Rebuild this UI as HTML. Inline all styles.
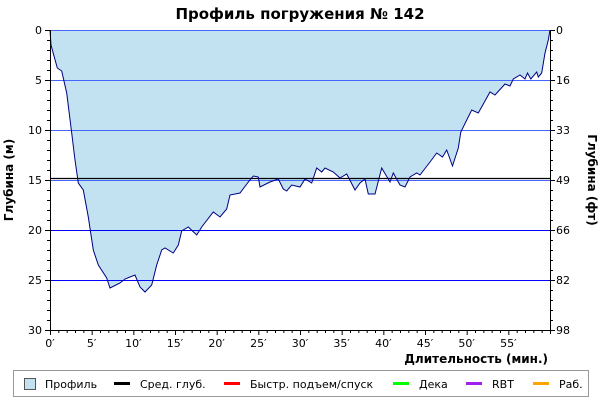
<!DOCTYPE html>
<html><head><meta charset="utf-8"><style>
body{margin:0;background:#fff;width:600px;height:400px;overflow:hidden}
svg text{font-family:"DejaVu Sans","Liberation Sans",sans-serif}
</style></head><body>
<svg id="c" width="600" height="400" xmlns="http://www.w3.org/2000/svg">
<text x="300" y="19" text-anchor="middle" font-size="15" font-weight="bold">Профиль погружения № 142</text>
<g id="plot"></g>
<text transform="translate(13,180) rotate(-90)" text-anchor="middle" font-size="12" font-weight="bold">Глубина (м)</text>
<text transform="translate(588,180) rotate(90)" text-anchor="middle" font-size="12" font-weight="bold">Глубина (фт)</text>
<text x="548" y="363" text-anchor="end" font-size="12" font-weight="bold">Длительность (мин.)</text>
<g>
<rect x="13.5" y="370.5" width="575" height="26" fill="#fff" stroke="#999"/>
<g><rect x="24.5" y="378.5" width="11" height="11" fill="#c2e2f2" stroke="#555"/><text x="45" y="388" font-size="11">Профиль</text></g>
<g><rect x="114" y="382" width="16" height="3" fill="#000"/><text x="140" y="388" font-size="11">Сред. глуб.</text></g>
<g><rect x="224" y="382" width="16" height="3" fill="#f00"/><text x="250" y="388" font-size="11">Быстр. подъем/спуск</text></g>
<g><rect x="393" y="382" width="16" height="3" fill="#0f0"/><text x="419" y="388" font-size="11">Дека</text></g>
<g><rect x="466" y="382" width="16" height="3" fill="#a020f0"/><text x="492" y="388" font-size="11">RBT</text></g>
<g><rect x="533" y="382" width="16" height="3" fill="#ffa500"/><text x="559" y="388" font-size="11">Раб.</text></g>
</g>
</svg>
<script>
const times=[0,0.12,0.88,1.4,2.0,2.6,3.0,3.4,4.0,4.6,5.2,5.8,6.8,7.2,8.4,9.0,10.2,10.8,11.4,12.2,12.8,13.4,13.8,14.8,15.4,15.8,16.6,17.6,18.2,19.6,20.4,21.2,21.6,22.8,23.8,24.4,25.0,25.2,26.4,27.4,28.0,28.4,29.0,30.0,30.6,31.4,32.0,32.6,33.0,34.0,34.8,35.6,36.6,37.2,37.8,38.2,39.0,39.8,40.8,41.2,42.0,42.6,43.2,44.0,44.4,45.6,46.4,47.1,47.6,48.3,49.0,49.3,50.6,51.4,52.8,53.4,54.6,55.2,55.6,56.4,57.0,57.3,57.7,58.4,58.6,59.0,59.4,59.8,60.0];
const depths=[0,1.5,3.8,4.1,6.3,10.3,13,15.3,16,18.7,22,23.5,24.8,25.8,25.3,24.9,24.5,25.7,26.2,25.5,23.5,22,21.8,22.3,21.5,20.1,19.7,20.5,19.7,18.2,18.7,17.9,16.5,16.3,15.2,14.6,14.7,15.7,15.2,14.9,15.9,16.1,15.5,15.7,14.9,15.3,13.8,14.2,13.8,14.2,14.8,14.4,16,15.3,14.9,16.4,16.4,13.8,15.2,14.3,15.5,15.7,14.7,14.3,14.5,13.2,12.3,12.7,12,13.6,11.8,10.2,8,8.3,6.2,6.5,5.4,5.6,4.9,4.5,4.9,4.3,4.9,4.2,4.7,4.3,2.3,1,0];
const avgDepth=14.8;
const depthTicks=[0,5,10,15,20,25,30];
const ftTicks=["0","16","33","49","66","82","98"];
const timeTicks=[0,5,10,15,20,25,30,35,40,45,50,55];
const X0=50,X1=550,Y0=30,Y1=330,TMAX=60,DMAX=30;
const xs=t=>X0+t/TMAX*(X1-X0), ys=d=>Y0+d/DMAX*(Y1-Y0);
const NS='http://www.w3.org/2000/svg', g=document.getElementById('plot');
function mk(tag,attrs){const e=document.createElementNS(NS,tag);for(const k in attrs)e.setAttribute(k,attrs[k]);g.appendChild(e);return e;}
let pts=times.map((t,i)=>xs(t).toFixed(1)+','+ys(depths[i]).toFixed(1)).join(' ');
const area=mk('polygon',{points:xs(times[0])+','+Y0+' '+pts+' '+xs(times[times.length-1])+','+Y0,fill:'#c2e2f2'});


depthTicks.forEach((d,i)=>{
  if(d>0&&d<DMAX){const l=mk('line',{x1:X0,x2:X1,y1:ys(d)+.5,y2:ys(d)+.5,stroke:d<=15?'#4466ff':'#0000ff','stroke-width':1});
  
  }
  const t=mk('text',{x:X0-8,y:ys(d)+4,'text-anchor':'end','font-size':11});t.textContent=d;
  
  
  const t2=mk('text',{x:X1+6,y:ys(d)+4,'font-size':11});t2.textContent=ftTicks[i];
  
  
});
const topLine=mk('line',{x1:X0,x2:X1,y1:Y0+.5,y2:Y0+.5,stroke:'#4466ff'});


const av=mk('line',{x1:X0,x2:X1,y1:ys(avgDepth)+.5,y2:ys(avgDepth)+.5,stroke:'#000','stroke-width':1.2});


const pl=mk('polyline',{points:pts,fill:'none',stroke:'#000080','stroke-width':1});


mk('line',{x1:X0+.5,x2:X0+.5,y1:Y0,y2:Y1+4,stroke:'#000'});
mk('line',{x1:X1+.5,x2:X1+.5,y1:Y0,y2:Y1+4,stroke:'#000'});
mk('line',{x1:X0,x2:X1,y1:Y1+.5,y2:Y1+.5,stroke:'#000'});
for(let d=0;d<=DMAX;d++){const L=d%5==0?5:3;
  mk('line',{x1:X0-L,x2:X0,y1:ys(d)+.5,y2:ys(d)+.5,stroke:'#000'});
  mk('line',{x1:X1,x2:X1+L,y1:ys(d)+.5,y2:ys(d)+.5,stroke:'#000'});}
for(let m=0;m<TMAX;m++){const L=m%5==0?5:3;
  mk('line',{x1:xs(m)+.5,x2:xs(m)+.5,y1:Y1,y2:Y1+L,stroke:'#000'});}
timeTicks.forEach(m=>{const t=mk('text',{x:xs(m),y:Y1+17,'text-anchor':'middle','font-size':11});t.textContent=m+'′';
  
  });
</script>
</body></html>
